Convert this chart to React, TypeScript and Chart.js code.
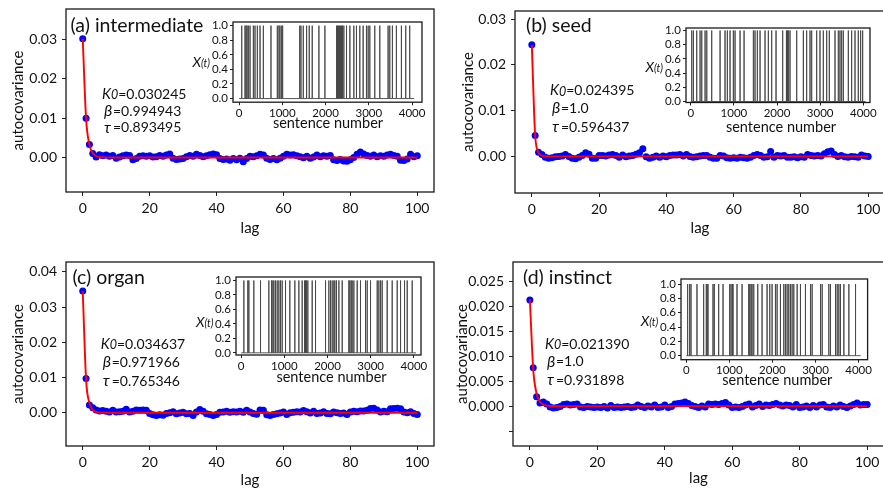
import React, { useEffect, useRef } from 'react';
import { Chart, registerables } from 'chart.js';

Chart.register(...registerables);

const FONT = 'Lato, "Open Sans", "DejaVu Sans", sans-serif';

// ---------- data ----------
const lagTicks = [0, 20, 40, 60, 80, 100];
const sentenceTicks = [0, 1000, 2000, 3000, 4000];
const xtTicks = [0, 0.2, 0.4, 0.6, 0.8, 1.0];
const xtLabels = ['0.0', '0.2', '0.4', '0.6', '0.8', '1.0'];

const acovTicks3 = [0, 0.01, 0.02, 0.03];
const acovLabels3 = ['0.00', '0.01', '0.02', '0.03'];
const acovTicks4 = [0, 0.01, 0.02, 0.03, 0.04];
const acovLabels4 = ['0.00', '0.01', '0.02', '0.03', '0.04'];
const acovTicksD = [-0.005, 0, 0.005, 0.01, 0.015, 0.02, 0.025];
const acovLabelsD = ['', '0.000', '0.005', '0.010', '0.015', '0.020', '0.025'];

// autocovariance at lags 0..100
const acovIntermediate = [
  0.0302, 0.0100, 0.0033, 0.0010, 0.0001, 0.0007, 0.0004, 0.0006, 0.0003, 0.0005,
  -0.0002, 0.0001, 0.0004, 0.0006, 0.0005, -0.0006, -0.0003, 0.0003, 0.0004, 0.0003,
  0.0004, 0.0001, 0.0002, 0.0005, 0.0003, 0.0006, 0.0009, -0.0002, -0.0005, -0.0004,
  -0.0003, 0.0002, 0.0005, 0.0003, 0.0008, 0.0005, 0.0002, 0.0004, 0.0007, 0.0009,
  0.0007, -0.0003, -0.0005, -0.0004, -0.0007, -0.0003, -0.0006, -0.0002, -0.0011, -0.0003,
  0.0003, 0.0002, 0.0004, 0.0008, 0.0006, -0.0002, -0.0005, -0.0003, -0.0006, -0.0002,
  0.0003, 0.0008, 0.0006, 0.0007, 0.0004, 0.0002, -0.0001, 0.0003, -0.0002, 0.0001,
  0.0006, 0.0002, 0.0004, 0.0003, 0.0005, -0.0006, -0.0008, -0.0005, -0.0009, -0.0010,
  -0.0006, 0.0000, 0.0008, 0.0014, 0.0009, 0.0005, 0.0003, 0.0006, 0.0002, 0.0004,
  0.0003, 0.0006, 0.0008, 0.0005, 0.0003, -0.0007, -0.0008, -0.0004, 0.0008, 0.0002,
  0.0004,
];
const acovSeed = [
  0.0244, 0.0046, 0.0009, 0.0004, -0.0002, -0.0004, -0.0003, -0.0001, 0.0000, 0.0001,
  0.0004, 0.0000, -0.0004, -0.0005, -0.0002, 0.0002, 0.0008, 0.0005, -0.0004, -0.0004,
  0.0002, 0.0002, 0.0001, 0.0003, 0.0004, 0.0002, -0.0002, 0.0003, -0.0001, 0.0001,
  0.0002, 0.0005, 0.0008, 0.0017, -0.0001, -0.0004, -0.0002, 0.0001, -0.0002, 0.0001,
  -0.0001, 0.0002, 0.0003, 0.0003, 0.0004, 0.0001, 0.0004, 0.0000, -0.0002, -0.0001,
  0.0001, 0.0002, 0.0002, -0.0002, -0.0004, -0.0004, 0.0002, 0.0001, -0.0003, -0.0004,
  -0.0003, -0.0004, -0.0002, -0.0003, -0.0004, -0.0002, 0.0002, 0.0004, 0.0002, -0.0002,
  -0.0001, 0.0011, -0.0002, 0.0002, 0.0001, 0.0002, -0.0002, -0.0002, -0.0001, -0.0003,
  -0.0001, -0.0002, 0.0004, 0.0002, 0.0001, 0.0002, 0.0001, 0.0006, 0.0010, 0.0012,
  0.0004, 0.0000, 0.0002, -0.0001, -0.0002, 0.0000, -0.0001, -0.0002, 0.0003, 0.0001,
  0.0000,
];
const acovOrgan = [
  0.0346, 0.0097, 0.0022, 0.0014, 0.0008, 0.0005, 0.0006, 0.0004, 0.0002, 0.0007,
  0.0002, 0.0003, 0.0004, 0.0010, 0.0002, 0.0004, 0.0008, 0.0007, 0.0008, 0.0007,
  -0.0002, -0.0006, -0.0008, -0.0006, -0.0007, -0.0002, 0.0000, 0.0003, -0.0003, -0.0001,
  0.0001, -0.0003, -0.0002, -0.0008, 0.0002, 0.0009, 0.0004, -0.0003, -0.0005, -0.0008,
  -0.0005, 0.0001, 0.0002, 0.0004, 0.0001, 0.0003, 0.0002, 0.0004, 0.0001, 0.0007,
  0.0002, -0.0002, -0.0004, 0.0008, 0.0007, -0.0006, -0.0008, -0.0005, -0.0003, -0.0001,
  0.0002, -0.0005, 0.0000, 0.0001, 0.0003, 0.0002, 0.0006, 0.0003, -0.0001, 0.0004,
  -0.0002, -0.0001, 0.0003, -0.0002, -0.0003, 0.0002, 0.0000, -0.0002, -0.0001, -0.0005,
  0.0002, 0.0004, 0.0003, 0.0005, 0.0005, 0.0007, 0.0012, 0.0013, 0.0008, 0.0002,
  0.0004, 0.0003, 0.0011, 0.0012, 0.0013, 0.0011, 0.0002, 0.0000, 0.0003, -0.0002,
  -0.0005,
];
const acovInstinct = [
  0.0213, 0.0077, 0.0019, 0.0006, 0.0008, 0.0004, -0.0002, -0.0004, -0.0003, -0.0001,
  0.0003, 0.0004, 0.0002, 0.0003, 0.0004, -0.0002, -0.0003, -0.0001, -0.0002, -0.0003,
  -0.0002, -0.0003, -0.0001, -0.0004, 0.0001, -0.0003, -0.0002, -0.0003, -0.0002, -0.0001,
  -0.0003, -0.0002, 0.0002, -0.0001, -0.0003, 0.0000, -0.0002, 0.0002, -0.0003, -0.0002,
  0.0002, -0.0003, -0.0001, 0.0004, 0.0005, 0.0006, 0.0008, 0.0005, 0.0001, -0.0001,
  -0.0003, 0.0000, -0.0002, 0.0004, 0.0003, 0.0004, 0.0003, 0.0005, 0.0007, 0.0002,
  -0.0003, -0.0002, -0.0003, -0.0001, 0.0002, 0.0004, -0.0002, 0.0001, 0.0004, -0.0001,
  0.0002, 0.0001, 0.0003, 0.0005, 0.0002, 0.0000, 0.0002, 0.0001, -0.0002, 0.0003,
  -0.0003, -0.0002, 0.0000, -0.0003, 0.0001, -0.0002, 0.0002, 0.0003, -0.0002, -0.0003,
  0.0000, -0.0002, 0.0002, -0.0001, -0.0003, 0.0000, 0.0003, 0.0006, 0.0002, 0.0003,
  0.0003,
];

// fitted curve, sampled at these lags
const fitLags = [0, 1, 2, 3, 4, 5, 6, 7, 8, 10, 100];
const fitIntermediate = [0.030245, 0.00988, 0.00325, 0.00107, 0.000356, 0.000118, 0.000039, 0.000013, 0.000004, 0, 0];
const fitSeed = [0.024395, 0.004563, 0.000853, 0.00016, 0.00003, 0.0000056, 0.000001, 0, 0, 0, 0];
const fitOrgan = [0.034637, 0.009468, 0.002721, 0.000796, 0.000236, 0.00007, 0.000021, 0.0000064, 0.000002, 0, 0];
const fitInstinct = [0.02139, 0.007314, 0.002501, 0.000855, 0.000293, 0.0001, 0.000034, 0.000012, 0.000004, 0, 0];

// sentence numbers where the word occurs (X(t)=1)
const eventsIntermediate = [62, 138, 162, 185, 215, 254, 331, 369, 423, 485, 562, 738, 885, 923, 946, 985, 1008, 1392, 1408, 1431, 1485, 1562, 1623, 1692, 1846, 1985, 2254, 2277, 2300, 2323, 2346, 2369, 2392, 2423, 2485, 2562, 2654, 2715, 2792, 2869, 2946, 2985, 3023, 3138, 3254, 3446, 3485, 3546, 3638, 3754, 3854, 3946];
const eventsSeed = [23, 62, 139, 216, 255, 332, 371, 486, 680, 795, 849, 911, 988, 1027, 1143, 1236, 1452, 1490, 1544, 1606, 1722, 1799, 1876, 1977, 2131, 2208, 2225, 2240, 2263, 2301, 2456, 2610, 2687, 2764, 2803, 2919, 2996, 3073, 3151, 3212, 3344, 3421, 3459, 3498, 3537, 3653, 3730, 3807, 3884, 3938, 3985];
const eventsOrgan = [62, 154, 178, 293, 448, 641, 703, 734, 757, 795, 834, 873, 911, 950, 1027, 1127, 1243, 1336, 1413, 1467, 1490, 1514, 1544, 1645, 1722, 1954, 2031, 2069, 2108, 2147, 2170, 2208, 2263, 2340, 2494, 2517, 2548, 2571, 2610, 2687, 2764, 2880, 2919, 2996, 3151, 3189, 3228, 3266, 3382, 3498, 3614, 3691, 3784, 3846, 3961];
const eventsInstinct = [31, 78, 109, 248, 403, 465, 481, 504, 620, 651, 752, 853, 1008, 1039, 1070, 1085, 1178, 1295, 1450, 1473, 1504, 1527, 1566, 1659, 1760, 1876, 1938, 1992, 2070, 2109, 2186, 2264, 2302, 2341, 2380, 2419, 2457, 2496, 2574, 2651, 2767, 2884, 2922, 3116, 3155, 3310, 3349, 3465, 3504, 3543, 3581, 3659, 3775, 3930];
const sentenceCount = 4050;

// ---------- layout ----------
type Inset = {
  events: number[];
  frame: { l: number; t: number; r: number; b: number };
  xMin: number; xMax: number; yMin: number; yMax: number;
  xtRight: number; xtCy: number; snCx: number; snCy: number;
};
type Panel = {
  title: string; k0: string; beta: string; tau: string;
  acov: number[]; fit: number[];
  box: { x: number; y: number; w: number; h: number };
  area: { l: number; t: number; r: number; b: number };
  yMin: number; yMax: number; yTicks: number[]; yLabels: string[];
  yTitleCx: number; xTitleCy: number;
  titleX: number; titleCy: number; paramX: number; paramCy: number[];
  inset: Inset;
};

const PANELS: Panel[] = [
  {
    title: '(a) intermediate', k0: '0.030245', beta: '0.994943', tau: '0.893495',
    acov: acovIntermediate, fit: fitIntermediate,
    box: { x: 0, y: 0, w: 440, h: 245 }, area: { l: 66, t: 9, r: 434, b: 192 },
    yMin: -0.0088, yMax: 0.0378, yTicks: acovTicks3, yLabels: acovLabels3,
    yTitleCx: 18, xTitleCy: 228, titleX: 70.5, titleCy: 25.5, paramX: 102, paramCy: [94, 111, 127.5],
    inset: { events: eventsIntermediate, frame: { l: 233, t: 21.5, r: 422, b: 101.7 }, xMin: -140, xMax: 4230, yMin: -0.05, yMax: 1.05, xtRight: 210, xtCy: 62, snCx: 328, snCy: 123 },
  },
  {
    title: '(b) seed', k0: '0.024395', beta: '1.0', tau: '0.596437',
    acov: acovSeed, fit: fitSeed,
    box: { x: 440, y: 0, w: 460, h: 245 }, area: { l: 515, t: 11, r: 885, b: 193 },
    yMin: -0.008, yMax: 0.0318, yTicks: acovTicks3, yLabels: acovLabels3,
    yTitleCx: 468, xTitleCy: 228, titleX: 526, titleCy: 26, paramX: 550, paramCy: [90.7, 108, 127],
    inset: { events: eventsSeed, frame: { l: 686, t: 27.5, r: 870, b: 102 }, xMin: -110, xMax: 4155, yMin: -0.014, yMax: 1.035, xtRight: 663, xtCy: 67, snCx: 781, snCy: 127 },
  },
  {
    title: '(c) organ', k0: '0.034637', beta: '0.971966', tau: '0.765346',
    acov: acovOrgan, fit: fitOrgan,
    box: { x: 0, y: 245, w: 440, h: 245 }, area: { l: 66, t: 262, r: 434, b: 446 },
    yMin: -0.00945, yMax: 0.0428, yTicks: acovTicks4, yLabels: acovLabels4,
    yTitleCx: 18, xTitleCy: 480, titleX: 72.5, titleCy: 278, paramX: 100.7, paramCy: [344, 362, 381],
    inset: { events: eventsOrgan, frame: { l: 235.5, t: 276.5, r: 420.5, b: 354.5 }, xMin: -120, xMax: 4165, yMin: -0.03, yMax: 1.048, xtRight: 213, xtCy: 322, snCx: 331, snCy: 377 },
  },
  {
    title: '(d) instinct', k0: '0.021390', beta: '1.0', tau: '0.931898',
    acov: acovInstinct, fit: fitInstinct,
    box: { x: 440, y: 245, w: 460, h: 245 }, area: { l: 513, t: 262, r: 884, b: 446 },
    yMin: -0.008, yMax: 0.0289, yTicks: acovTicksD, yLabels: acovLabelsD,
    yTitleCx: 462.5, xTitleCy: 478, titleX: 523, titleCy: 278, paramX: 545, paramCy: [344, 361.7, 380],
    inset: { events: eventsInstinct, frame: { l: 680.7, t: 279.3, r: 867.3, b: 360 }, xMin: -123, xMax: 4210, yMin: -0.056, yMax: 1.07, xtRight: 658, xtCy: 322, snCx: 777, snCy: 381 },
  },
];

// ---------- plugins ----------
const framePlugin = {
  id: 'frame',
  afterDatasetsDraw(chart: any) {
    const { ctx, chartArea } = chart;
    ctx.save();
    ctx.strokeStyle = '#1a1a1a';
    ctx.lineWidth = 1.3;
    ctx.strokeRect(chartArea.left, chartArea.top, chartArea.right - chartArea.left, chartArea.bottom - chartArea.top);
    ctx.restore();
  },
};

type Run = { text: string; font: string; at?: number; dy?: number };
type TextLine = { x: number; y: number; align?: 'left' | 'right' | 'center'; runs: Run[] };

function makeTextPlugin(lines: TextLine[]) {
  return {
    id: 'panelText',
    afterDraw(chart: any) {
      const ctx = chart.ctx;
      ctx.save();
      ctx.fillStyle = '#111';
      ctx.textBaseline = 'middle';
      ctx.textAlign = 'left';
      for (const line of lines) {
        let total = 0;
        for (const r of line.runs) { ctx.font = r.font; total += ctx.measureText(r.text).width; }
        let x = line.x;
        if (line.align === 'right') x = line.x - total;
        else if (line.align === 'center') x = line.x - total / 2;
        for (const r of line.runs) {
          ctx.font = r.font;
          if (typeof r.at === 'number') x = line.x + r.at;
          ctx.fillText(r.text, x, line.y + (typeof r.dy === 'number' ? r.dy : 0));
          x += ctx.measureText(r.text).width;
        }
      }
      ctx.restore();
    },
  };
}

const f = (size: number, style = '') => `${style} ${size}px ${FONT}`.trim();

function mainConfig(p: Panel) {
  const aT = p.area.t - p.box.y;
  const aL = p.area.l - p.box.x;
  const aR = p.area.r - p.box.x;
  const aB = p.area.b - p.box.y;
  const titleSize = 15;
  const lh = titleSize * 1.2;
  const ox = p.box.x, oy = p.box.y;
  const lines: TextLine[] = [
    { x: p.titleX - ox, y: p.titleCy - oy, runs: [{ text: p.title, font: f(19.5) }] },
    { x: p.paramX - ox, y: p.paramCy[0] - oy, runs: [
      { text: 'K', font: f(14.5, 'italic') },
      { text: '0', font: f(12.5, 'italic'), dy: 1 },
      { text: '=' + p.k0, font: f(14) },
    ] },
    { x: p.paramX - ox, y: p.paramCy[1] - oy, runs: [
      { text: 'β', font: f(16, 'italic'), at: 2 },
      { text: '=' + p.beta, font: f(14), at: 11 },
    ] },
    { x: p.paramX - ox, y: p.paramCy[2] - oy, runs: [
      { text: 'τ', font: f(16, 'italic'), at: 2 },
      { text: '=' + p.tau, font: f(14), at: 11 },
    ] },
  ];
  return {
    type: 'scatter',
    data: {
      datasets: [
        {
          data: fitLags.map((x, i) => ({ x, y: p.fit[i] })),
          showLine: true, borderColor: 'rgb(255,0,0)', backgroundColor: 'rgb(255,0,0)',
          borderWidth: 1.9, pointRadius: 0, cubicInterpolationMode: 'monotone', fill: false,
        },
        {
          data: p.acov.map((y, i) => ({ x: i, y })),
          showLine: false, pointRadius: 3.5, pointBorderWidth: 0,
          pointBackgroundColor: 'rgb(0,0,255)', backgroundColor: 'rgb(0,0,255)', borderColor: 'rgb(0,0,255)',
        },
      ],
    },
    options: {
      responsive: false, animation: false, events: [],
      layout: { padding: { left: 0, top: aT, right: p.box.w - aR, bottom: 0 }, autoPadding: false },
      plugins: { legend: { display: false }, tooltip: { enabled: false } },
      scales: {
        x: {
          type: 'linear', min: -5, max: 105,
          afterBuildTicks: (s: any) => { s.ticks = lagTicks.map((v) => ({ value: v })); },
          afterFit: (s: any) => { s.height = p.box.h - aB; s.paddingLeft = 0; s.paddingRight = 0; s.paddingTop = 0; s.paddingBottom = 0; },
          ticks: { font: { family: FONT, size: 14 }, color: '#111', padding: 4, maxRotation: 0, minRotation: 0, autoSkip: false, callback: (v: any) => String(v) },
          grid: { drawOnChartArea: false, drawTicks: true, tickLength: 4, color: '#222', lineWidth: 1 },
          border: { display: false },
          title: { display: true, text: 'lag', color: '#111', font: { family: FONT, size: titleSize }, padding: { top: 0, bottom: p.box.h - (p.xTitleCy - oy) - lh / 2 } },
        },
        y: {
          type: 'linear', min: p.yMin, max: p.yMax,
          afterBuildTicks: (s: any) => { s.ticks = p.yTicks.map((v) => ({ value: v })); },
          afterFit: (s: any) => { s.width = aL; s.paddingLeft = 0; s.paddingRight = 0; s.paddingTop = 0; s.paddingBottom = 0; },
          ticks: { font: { family: FONT, size: 14 }, color: '#111', padding: 5, autoSkip: false, callback: (_v: any, i: number) => p.yLabels[i] },
          grid: { drawOnChartArea: false, drawTicks: true, tickLength: 4, color: '#222', lineWidth: 1 },
          border: { display: false },
          title: { display: true, text: 'autocovariance', color: '#111', font: { family: FONT, size: titleSize }, padding: { top: (p.yTitleCx - ox) - lh / 2, bottom: 0 } },
        },
      },
    },
    plugins: [framePlugin, makeTextPlugin(lines)],
  };
}

const INSET_L = 54, INSET_T = 8, INSET_R = 12, INSET_B = 38;
function insetBox(ins: Inset) {
  return {
    x: ins.frame.l - INSET_L,
    y: ins.frame.t - INSET_T,
    w: Math.round(ins.frame.r - ins.frame.l + INSET_L + INSET_R),
    h: Math.round(ins.frame.b - ins.frame.t + INSET_T + INSET_B),
  };
}

function insetConfig(ins: Inset) {
  const b = insetBox(ins);
  const aB = ins.frame.b - b.y;
  const spikes: { x: number; y: number }[] = [{ x: 0, y: 0 }];
  ins.events.forEach((e) => { spikes.push({ x: e, y: 0 }, { x: e, y: 1 }, { x: e, y: 0 }); });
  spikes.push({ x: sentenceCount, y: 0 });
  const lines: TextLine[] = [
    { x: ins.xtRight - b.x, y: ins.xtCy - b.y, align: 'right', runs: [
      { text: 'X', font: f(14, 'italic') },
      { text: '(t)', font: f(10.5, 'italic'), dy: 1 },
    ] },
    { x: ins.snCx - b.x, y: ins.snCy - b.y, align: 'center', runs: [{ text: 'sentence number', font: f(14.5) }] },
  ];
  return {
    type: 'scatter',
    data: {
      datasets: [
        { data: spikes, showLine: true, borderColor: 'rgba(70,70,70,0.9)', borderWidth: 1, pointRadius: 0, tension: 0, fill: false },
      ],
    },
    options: {
      responsive: false, animation: false, events: [],
      layout: { padding: { left: 0, top: INSET_T, right: b.w - (ins.frame.r - b.x), bottom: 0 }, autoPadding: false },
      plugins: { legend: { display: false }, tooltip: { enabled: false } },
      scales: {
        x: {
          type: 'linear', min: ins.xMin, max: ins.xMax,
          afterBuildTicks: (s: any) => { s.ticks = sentenceTicks.map((v) => ({ value: v })); },
          afterFit: (s: any) => { s.height = b.h - aB; s.paddingLeft = 0; s.paddingRight = 0; s.paddingTop = 0; s.paddingBottom = 0; },
          ticks: { font: { family: FONT, size: 11.5 }, color: '#111', padding: 1, maxRotation: 0, minRotation: 0, autoSkip: false, callback: (v: any) => String(v) },
          grid: { drawOnChartArea: false, drawTicks: true, tickLength: 3, color: '#222', lineWidth: 1 },
          border: { display: false },
        },
        y: {
          type: 'linear', min: ins.yMin, max: ins.yMax,
          afterBuildTicks: (s: any) => { s.ticks = xtTicks.map((v) => ({ value: v })); },
          afterFit: (s: any) => { s.width = INSET_L; s.paddingLeft = 0; s.paddingRight = 0; s.paddingTop = 0; s.paddingBottom = 0; },
          ticks: { font: { family: FONT, size: 11.5 }, color: '#111', padding: 2, autoSkip: false, callback: (_v: any, i: number) => xtLabels[i] },
          grid: { drawOnChartArea: false, drawTicks: true, tickLength: 3, color: '#222', lineWidth: 1 },
          border: { display: false },
        },
      },
    },
    plugins: [framePlugin, makeTextPlugin(lines)],
  };
}

export default function App() {
  const mainRefs = useRef<(HTMLCanvasElement | null)[]>([]);
  const insetRefs = useRef<(HTMLCanvasElement | null)[]>([]);

  useEffect(() => {
    const charts: Chart[] = [];
    PANELS.forEach((p, i) => {
      const c1 = mainRefs.current[i];
      if (c1) charts.push(new Chart(c1, mainConfig(p) as any));
      const c2 = insetRefs.current[i];
      if (c2) charts.push(new Chart(c2, insetConfig(p.inset) as any));
    });
    return () => { charts.forEach((c) => c.destroy()); };
  }, []);

  return (
    <div style={{ position: 'fixed', left: 0, top: 0, width: 883, height: 490, overflow: 'hidden', background: '#fff' }}>
      {PANELS.map((p, i) => (
        <canvas
          key={'m' + i}
          ref={(el) => { mainRefs.current[i] = el; }}
          width={p.box.w}
          height={p.box.h}
          style={{ position: 'absolute', left: p.box.x, top: p.box.y, width: p.box.w, height: p.box.h }}
        />
      ))}
      {PANELS.map((p, i) => {
        const b = insetBox(p.inset);
        return (
          <canvas
            key={'i' + i}
            ref={(el) => { insetRefs.current[i] = el; }}
            width={b.w}
            height={b.h}
            style={{ position: 'absolute', left: b.x, top: b.y, width: b.w, height: b.h }}
          />
        );
      })}
    </div>
  );
}
